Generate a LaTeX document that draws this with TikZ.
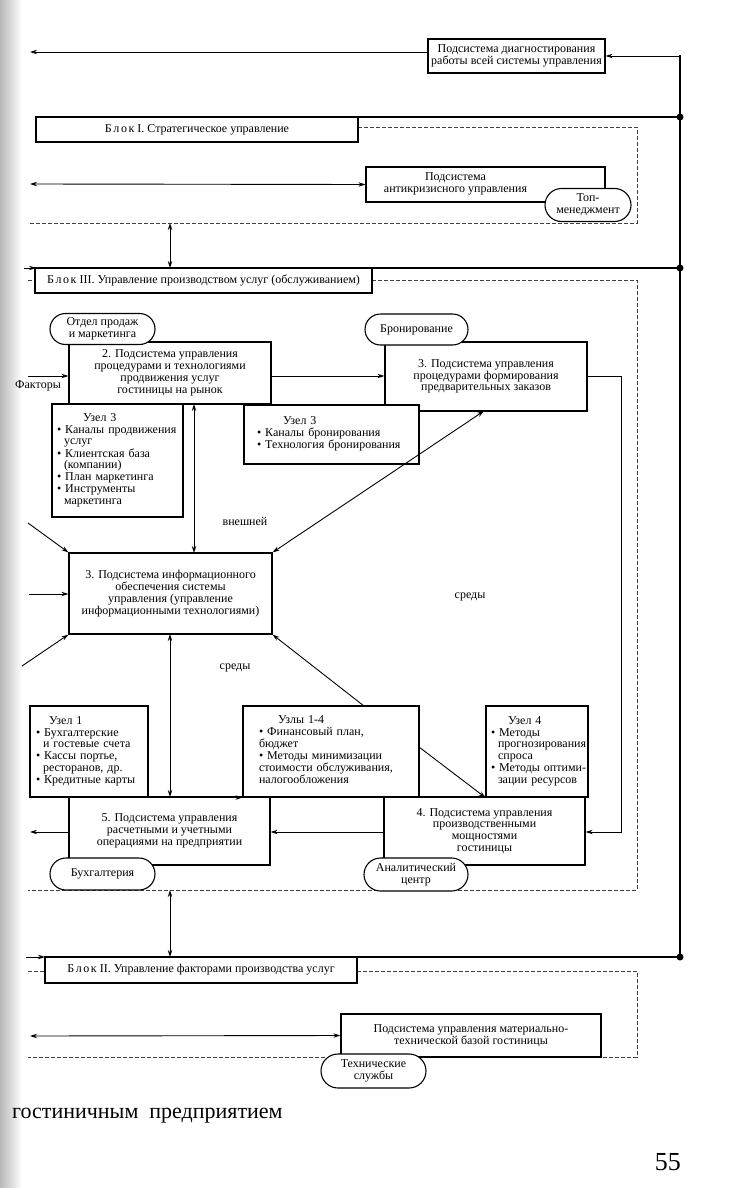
\documentclass[tikz,border=0pt]{standalone}
\usepackage{fontspec}
\setmainfont{Liberation Serif}
\usetikzlibrary{arrows.meta,shapes.misc}
\newcommand{\fs}{\fontsize{12}{11.8}\selectfont}
\newcommand{\bl}{\textbullet\ }
\newcommand{\hg}{\hspace*{7pt}}
\newcommand{\ml}[1]{\begin{tabular}{@{}c@{}}#1\end{tabular}}
\newcommand{\tl}[1]{\begin{tabular}{@{}l@{}}#1\end{tabular}}
\newcommand{\blk}{Б\kern1.6pt л\kern1.6pt о\kern1.6pt к\ }
\begin{document}
\begin{tikzpicture}[x=1pt,y=-1pt,
  every node/.style={font=\fs},
  box/.style={draw, line width=1.1pt, fill=white, inner sep=2pt, align=center},
  ubox/.style={draw, line width=1.1pt, fill=white, inner ysep=2pt, align=left},
  pill/.style={draw, line width=1.1pt, fill=white, rounded rectangle, align=center, inner sep=1pt},
  tip/.style={-{Stealth[length=7pt,width=4.4pt]}},
  arr/.style={line width=0.9pt, -{Stealth[length=7pt,width=4.4pt]}},
  darr/.style={line width=0.9pt, {Stealth[length=7pt,width=4.4pt]}-{Stealth[length=7pt,width=4.4pt]}},
  mainline/.style={line width=1.6pt},
  bound/.style={line width=0.6pt, dashed, dash pattern=on 4pt off 2pt, black!75},
  dot/.style={circle, fill, inner sep=0pt, minimum size=7pt},
  lbl/.style={inner sep=1pt}]
\useasboundingbox (0,0) rectangle (728,1188);
\fill[white] (0,0) rectangle (728,1188);
\shade[left color=black!28, right color=white] (0,0) rectangle (22,1188);

% junctions and free ends
\node[dot] (j1) at (680,117) {};
\node[dot] (j3) at (680,268) {};
\node[dot] (j2) at (680,957) {};
\coordinate (L1) at (30,52);
\coordinate (L2) at (30,184);
\coordinate (L3a) at (24,268);
\coordinate (L3b) at (36,268);
\coordinate (L2a) at (26,957);
\coordinate (L1b) at (36,117);
\coordinate (Lf) at (28,376);
\coordinate (Li1) at (28,523);
\coordinate (Li2) at (29,594);
\coordinate (Li3) at (22,666);
\coordinate (Ll) at (30,797);
\coordinate (L5) at (30,832);
\coordinate (Lm) at (30,1036);
\coordinate (V1) at (621,376);
\coordinate (V2) at (621,832);

% dashed block boundaries
\draw[bound] (358,127) -- (637,127) -- (637,223) -- (28,223);
\draw[bound] (28,280) -- (35,280);
\draw[bound] (372,280) -- (637,280) -- (637,890) -- (28,890);
\draw[bound] (28,971) -- (45,971);
\draw[bound] (357,971) -- (637,971) -- (637,1057) -- (28,1057);

% main lines
\draw[mainline] (L1b) -- (j1.center);
\draw[mainline] (L3b) -- (j3.center);
\draw[mainline] (45,957) -- (j2.center);
\draw[mainline] (j2.center) -- (680,55);
\draw[line width=0.9pt, tip] (L3a) -- (L3b);
\draw[line width=0.9pt, tip] (L2a) -- (45,957);

% line under Uzel boxes
\draw[line width=0.9pt] (Ll) -- (486,797);

% boxes
\node[box, minimum width=177, minimum height=34] (diag) at (516.5,56) {Подсистема диагностирования\\работы всей системы управления};
\node[box, minimum width=322, minimum height=25] (blk1) at (197,129.5) {\blk I. Стратегическое управление};
\node[box, minimum width=239, minimum height=35] (anti) at (485.5,184.5) {\ml{Подсистема\\антикризисного управления}\hspace*{60pt}};
\node[box, minimum width=337, minimum height=25] (blk3) at (203.5,280.5) {\blk III. Управление производством услуг (обслуживанием)};

\node[box, minimum width=202, minimum height=62] (box2) at (170,373) {2. Подсистема управления\\процедурами и технологиями\\продвижения услуг\\гостиницы на рынок};
\node[box, minimum width=202, minimum height=69] (box3) at (486,376.5) {3. Подсистема управления\\процедурами формирования\\предварительных заказов};
\node[ubox, minimum width=131, minimum height=113, inner xsep=5pt, text width=121] (u3l) at (117.5,460.5)
 {\tl{\hspace*{26pt}Узел 3\\\bl Каналы продвижения\\\hg услуг\\\bl Клиентская база\\\hg (компании)\\\bl План маркетинга\\\bl Инструменты\\\hg маркетинга}};
\node[ubox, minimum width=175, minimum height=59, inner xsep=13pt, text width=149] (u3m) at (331.5,434.5)
 {\tl{\hspace*{26pt}Узел 3\\\bl Каналы бронирования\\\bl Технология бронирования}};
\node[box, minimum width=203, minimum height=81] (info) at (170.5,593.5) {3. Подсистема информационного\\обеспечения системы\\управления (управление\\информационными технологиями)};

\node[ubox, minimum width=118, minimum height=91, inner xsep=6pt, text width=106] (u1) at (89,751.5)
 {\tl{\hspace*{13pt}Узел 1\\\bl Бухгалтерские\\\hg и гостевые счета\\\bl Кассы портье,\\\hg ресторанов, др.\\\bl Кредитные карты}};
\node[ubox, minimum width=176, minimum height=91, inner xsep=16pt, text width=144] (uzly) at (331,751.5)
 {\tl{\hspace*{19pt}Узлы 1-4\\\bl Финансовый план,\\бюджет\\\bl Методы минимизации\\стоимости обслуживания,\\налогообложения}};
\node[ubox, minimum width=102, minimum height=91, inner xsep=5pt, text width=92] (u4) at (537,751.5)
 {\tl{\hspace*{17pt}Узел 4\\\bl Методы\\\hg прогнозирования\\\hg спроса\\\bl Методы оптими-\\\hg зации ресурсов}};
\node[box, minimum width=201, minimum height=68] (box5) at (169.5,831) {5. Подсистема управления\\расчетными и учетными\\операциями на предприятии};
\node[box, minimum width=201, minimum height=68] (box4) at (484.5,831) {4. Подсистема управления\\производственными\\мощностями\\гостиницы};

\node[box, minimum width=312, minimum height=26] (blk2) at (201,970) {\blk II. Управление факторами производства услуг};
\node[box, minimum width=260, minimum height=43] (mat) at (471,1035.5) {Подсистема управления материально-\\технической базой гостиницы};

% pills
\node[pill, minimum width=88, minimum height=33] (top) at (588,205) {Топ-\\менеджмент};
\node[pill, minimum width=107, minimum height=31] (otdel) at (102.5,329) {Отдел продаж\\и маркетинга};
\node[pill, minimum width=105, minimum height=31] (bron) at (416.5,329.5) {Бронирование};
\node[pill, minimum width=107, minimum height=32] (buh) at (102.5,874) {Бухгалтерия};
\node[pill, minimum width=106, minimum height=33] (anal) at (416,874.5) {Аналитический\\центр};
\node[pill, minimum width=107, minimum height=34] (tech) at (373.5,1071) {Технические\\службы};

% labels
\node[lbl] (fakt) at (38,386) {Факторы};
\node[lbl] (vn) at (245,521) {внешней};
\node[lbl] (sr1) at (470,597) {среды};
\node[lbl] (sr2) at (235,668) {среды};

% connectors
\draw[arr] (diag.west |- L1) -- (L1);
\draw[arr] (680,56) -- (diag.east);
\draw[darr] (L2) -- (anti.west);
\draw[darr] (170,223) -- (170,268);
\draw[arr] (Lf) -- (box2.west |- Lf);
\draw[arr] (box2.east |- Lf) -- (box3.west |- Lf);
\draw[arr] (box3.east |- V1) -- (V1) -- (V2) -- (box4.east |- V2);
\draw[darr] (194,404) -- (194,553);
\draw[darr] (484,411) -- (info.north east);
\draw[arr] (Li1) -- (info.north west);
\draw[arr] (Li2) -- (info.west |- Li2);
\draw[arr] (Li3) -- (info.south west);
\draw[darr] (170,634) -- (170,797);
\draw[arr] (364,706) -- (info.south east);
\draw[arr] (419,747) -- (u4.south west);
\draw[arr] (Ll) -- (uzly.south west);
\draw[arr] (box4.west |- V2) -- (box5.east |- V2);
\draw[arr] (box5.west |- V2) -- (L5);
\draw[darr] (170,890) -- (170,957);
\draw[darr] (Lm) -- (mat.west);

% page text
\node[font=\fontsize{22}{24}\selectfont, anchor=west, inner sep=0pt] (cap) at (12,1116) {гостиничным\ \ предприятием};
\node[font=\fontsize{26}{28}\selectfont, anchor=east, inner sep=0pt] (pg) at (681,1162) {55};
\end{tikzpicture}
\end{document}
